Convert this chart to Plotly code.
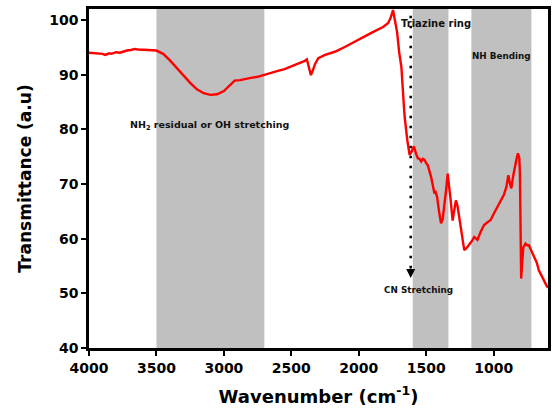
import plotly.graph_objects as go

wavenumber = [4000, 3950, 3900, 3880, 3850, 3833, 3800, 3770, 3750, 3720, 3690, 3660, 3640, 3600,
              3560, 3500, 3450, 3400, 3350, 3300, 3250, 3200, 3150, 3100, 3050, 3000, 2950, 2920,
              2880, 2850, 2800, 2750, 2700, 2650, 2600, 2550, 2500, 2450, 2400, 2385, 2370, 2355,
              2340, 2323, 2300, 2250, 2200, 2166, 2100, 2041, 2000, 1950, 1917, 1870, 1820, 1783,
              1765, 1746, 1730, 1716, 1700, 1684, 1670, 1660, 1640, 1623, 1607, 1591, 1575, 1562,
              1550, 1537, 1525, 1512, 1500, 1488, 1464, 1450, 1439, 1430, 1419, 1405, 1390, 1378,
              1365, 1352, 1341, 1330, 1321, 1304, 1292, 1280, 1268, 1255, 1240, 1218, 1200, 1182,
              1160, 1144, 1120, 1095, 1071, 1045, 1022, 1000, 973, 950, 924, 905, 891, 880, 869,
              857, 845, 830, 820, 810, 805, 800, 796, 790, 780, 764, 750, 739, 720, 702, 680, 665,
              653, 630, 610, 597]
transmittance = [94.0, 93.9, 93.8, 93.6, 93.9, 93.8, 94.1, 94.0, 94.2, 94.4, 94.5, 94.7, 94.6, 94.6,
                 94.5, 94.4, 93.8, 92.6, 91.2, 89.8, 88.5, 87.3, 86.6, 86.3, 86.4, 87.0, 88.2, 88.9,
                 89.0, 89.2, 89.4, 89.6, 89.9, 90.3, 90.7, 91.0, 91.5, 92.0, 92.5, 92.8, 91.5, 89.9,
                 90.8, 92.0, 93.0, 93.6, 94.0, 94.3, 95.1, 95.9, 96.5, 97.1, 97.5, 98.1, 98.7, 99.4,
                 100.3, 101.8, 100.0, 97.8, 94.0, 91.4, 86.0, 82.3, 78.0, 75.3, 76.0, 76.9, 75.5, 74.7,
                 74.6, 74.1, 74.6, 74.4, 73.8, 73.4, 71.3, 69.5, 68.3, 68.5, 67.6, 65.0, 62.8, 63.5,
                 65.8, 69.0, 71.9, 70.0, 67.6, 63.3, 65.5, 67.0, 66.0, 64.0, 61.0, 57.9, 58.3, 58.8,
                 59.6, 60.3, 59.8, 61.3, 62.5, 63.0, 63.4, 64.5, 65.8, 66.8, 68.0, 69.5, 71.6, 70.2, 69.2,
                 71.2, 73.1, 74.6, 75.6, 74.8, 71.9, 62.0, 52.7, 55.0, 58.4, 59.1, 58.8, 58.8, 57.8, 57.0,
                 55.6, 54.2, 53.7, 52.5, 51.5, 51.0]

bands = [(3500, 2700), (1600, 1335), (1165, 720)]
labels = [
    ("NH<sub>2</sub> residual or OH stretching", 3109, 80.7, 9.5),
    ("Triazine ring", 1431, 99.3, 10),
    ("NH Bending", 943, 93.4, 8.8),
    ("CN Stretching", 1557, 50.6, 8.8),
]
cn_x = 1615
cn_top, cn_end = 102.6, 52.8

FONT = "DejaVu Sans, Arial, sans-serif"

fig = go.Figure()
for x0, x1 in bands:
    fig.add_vrect(x0=x0, x1=x1, fillcolor="#c0c0c0", opacity=1, line_width=0, layer="below")

fig.add_trace(go.Scatter(x=wavenumber, y=transmittance, mode="lines",
                         line=dict(color="#ff0000", width=2.4), showlegend=False))

fig.add_shape(type="line", x0=cn_x, x1=cn_x, y0=cn_top, y1=cn_end + 1.2,
              line=dict(color="black", width=2.5, dash="2.5px,7.5px"))
fig.add_annotation(x=cn_x, y=cn_end, ax=cn_x, ay=cn_end + 2, axref="x", ayref="y",
                   text="", showarrow=True, arrowhead=2, arrowsize=1.2, arrowwidth=1.5,
                   arrowcolor="black")

for text, x, y, size in labels:
    fig.add_annotation(x=x, y=y, text=text, showarrow=False,
                       font=dict(family=FONT, size=size, color="#111", weight="bold"))

axis_common = dict(showline=True, linecolor="black", linewidth=2.5, mirror=True,
                   ticks="outside", ticklen=5, tickwidth=2, tickcolor="black",
                   showgrid=False, zeroline=False,
                   tickfont=dict(family=FONT, size=14, color="black", weight="bold"))

fig.update_layout(
    width=552, height=412,
    margin=dict(l=89, r=1, t=9, b=64),
    plot_bgcolor="white", paper_bgcolor="white",
    xaxis=dict(range=[4000, 597], tickvals=[4000, 3500, 3000, 2500, 2000, 1500, 1000],
               title=dict(text="Wavenumber (cm<sup>-1</sup>)", standoff=16,
                          font=dict(family=FONT, size=18, color="black", weight="bold")),
               **axis_common),
    yaxis=dict(range=[40, 102], tickvals=[40, 50, 60, 70, 80, 90, 100],
               title=dict(text="Transmittance (a.u)", standoff=14,
                          font=dict(family=FONT, size=17, color="black", weight="bold")),
               **axis_common),
)

fig.write_html("out.html")
